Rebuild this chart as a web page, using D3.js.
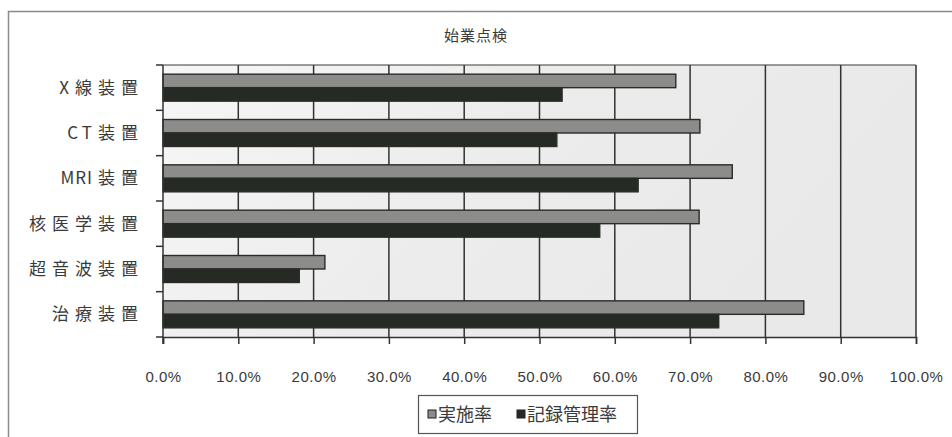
<!DOCTYPE html>
<html>
<head>
<meta charset="utf-8">
<script src="https://cdn.jsdelivr.net/npm/d3@7"></script>
<style>
  html, body { margin: 0; padding: 0; background: #fff; }
  svg { display: block; }
  text { font-family: "Noto Sans CJK JP", "Noto Sans", sans-serif; fill: #3a3a3a; }
</style>
</head>
<body>
<svg id="chart" width="952" height="437"></svg>
<script>
// 始業点検: 実施率 / 記録管理率 by equipment type
const categories = ["X線装置", "CT装置", "MRI装置", "核医学装置", "超音波装置", "治療装置"];
const seriesNames = ["実施率", "記録管理率"];
const implementationRate = [0.681, 0.713, 0.756, 0.712, 0.215, 0.851];
const recordRate = [0.530, 0.523, 0.631, 0.580, 0.181, 0.738];
const xTicks = [0, 0.1, 0.2, 0.3, 0.4, 0.5, 0.6, 0.7, 0.8, 0.9, 1.0];
const seriesColors = ["#8c8c8a", "#262a24"];

const svg = d3.select("#chart");
const margin = { left: 163, right: 36, top: 65, bottom: 100 };
const W = 952, H = 437;
const plotW = W - margin.left - margin.right;
const plotH = H - margin.top - margin.bottom;

// chart frame
svg.append("rect")
  .attr("x", 8.5).attr("y", 11.5).attr("width", 980).attr("height", 460)
  .attr("fill", "#fff").attr("stroke", "#8a8a8a").attr("stroke-width", 1.5);

svg.append("text")
  .attr("x", 476).attr("y", 41)
  .attr("text-anchor", "middle")
  .style("font-size", "15px")
  .attr("letter-spacing", "1px")
  .text("始業点検");

const defs = svg.append("defs");
const grad = defs.append("linearGradient").attr("id", "plotBg")
  .attr("x1", "0").attr("y1", "0").attr("x2", "1").attr("y2", "0.3");
grad.append("stop").attr("offset", "0").attr("stop-color", "#f6f6f6");
grad.append("stop").attr("offset", "0.5").attr("stop-color", "#ececec");
grad.append("stop").attr("offset", "1").attr("stop-color", "#e9e9e9");

const g = svg.append("g").attr("transform", `translate(${margin.left},${margin.top})`);

const x = d3.scaleLinear().domain([0, 1]).range([0, plotW]);
const y = d3.scaleBand().domain(categories).range([0, plotH]).paddingInner(0).paddingOuter(0);
const inner = d3.scaleBand().domain(seriesNames).range([0, y.bandwidth()]).paddingInner(0).paddingOuter(0.68);

// plot area
g.append("rect").attr("x", 0).attr("y", 0).attr("width", plotW).attr("height", plotH)
  .attr("fill", "url(#plotBg)");

// vertical gridlines
g.append("g").selectAll("line").data(xTicks.slice(1)).join("line")
  .attr("x1", d => x(d)).attr("x2", d => x(d))
  .attr("y1", 0).attr("y2", plotH)
  .attr("stroke", "#2e3430").attr("stroke-width", 1.5);

// top border
g.append("line").attr("x1", 0).attr("x2", plotW).attr("y1", 0).attr("y2", 0)
  .attr("stroke", "#3a3a3a").attr("stroke-width", 1.2);

// bars
const series = [implementationRate, recordRate];
series.forEach((vals, si) => {
  g.append("g").selectAll("rect").data(categories).join("rect")
    .attr("x", 0)
    .attr("y", (c) => y(c) + inner(seriesNames[si]))
    .attr("width", (c, i) => x(vals[i]))
    .attr("height", inner.bandwidth())
    .attr("fill", seriesColors[si])
    .attr("stroke", "#2a2c28").attr("stroke-width", 1.4);
});

// x axis
const xAxis = g.append("g").attr("transform", `translate(0,${plotH})`)
  .call(d3.axisBottom(x).tickValues(xTicks).tickSize(7).tickPadding(27)
    .tickFormat(d => (d * 100).toFixed(1) + "%"));
xAxis.select(".domain").attr("stroke", "#333").attr("stroke-width", 1.5);
xAxis.selectAll(".tick line").attr("stroke", "#333").attr("stroke-width", 1.5);
xAxis.selectAll(".tick text").style("font-size", "15px").attr("fill", "#555")
  .style("font-family", "'Liberation Sans', Arial, sans-serif").attr("letter-spacing", "0.5px");

// y axis: ticks sit on category boundaries
const yAxis = g.append("g");
yAxis.append("line").attr("x1", 0).attr("x2", 0).attr("y1", 0).attr("y2", plotH + 7)
  .attr("stroke", "#333").attr("stroke-width", 1.5);
const bounds = categories.map(c => y(c)).concat([plotH]);
yAxis.selectAll("line.tk").data(bounds).join("line").attr("class", "tk")
  .attr("x1", -7).attr("x2", 0).attr("y1", d => d).attr("y2", d => d)
  .attr("stroke", "#333").attr("stroke-width", 1.5);

// category labels: wide spacing after CJK glyphs, tight after Latin letters
const isLatin = ch => /[A-Za-z]/.test(ch);
const labels = yAxis.selectAll("text").data(categories).join("text")
  .attr("x", -25).attr("y", c => y(c) + y.bandwidth() / 2)
  .attr("dy", "0.36em")
  .attr("text-anchor", "end")
  .style("font-size", "17px");
labels.each(function (c) {
  const t = d3.select(this);
  const chars = Array.from(c);
  chars.forEach((ch, i) => {
    const prev = i > 0 ? chars[i - 1] : null;
    let dx = 0;
    if (prev !== null) dx = (isLatin(prev) && isLatin(ch)) ? (ch === "T" ? 4 : 1) : 6;
    t.append("tspan").attr("dx", dx).text(ch);
  });
});

// legend
const lg = svg.append("g").attr("transform", "translate(418,395)");
lg.append("rect").attr("x", 0.5).attr("y", 0.5).attr("width", 219).attr("height", 38)
  .attr("fill", "#fff").attr("stroke", "#555").attr("stroke-width", 1.2);
const items = [{ name: seriesNames[0], x: 10 }, { name: seriesNames[1], x: 99 }];
items.forEach((it, i) => {
  lg.append("rect").attr("x", it.x).attr("y", 15).attr("width", 8).attr("height", 8)
    .attr("fill", seriesColors[i]).attr("stroke", "#222").attr("stroke-width", 1);
  lg.append("text").attr("x", it.x + 10).attr("y", 20).attr("dy", "0.36em")
    .style("font-size", "18px").text(it.name);
});
</script>
</body>
</html>
